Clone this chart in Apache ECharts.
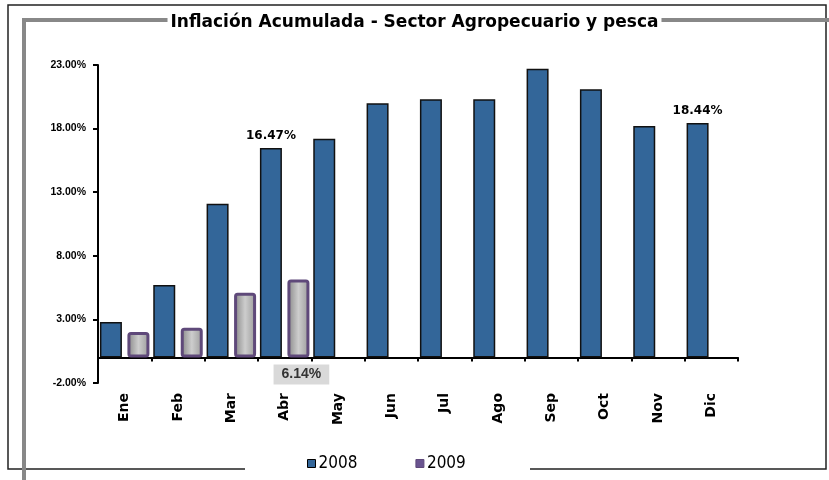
<!DOCTYPE html>
<html>
<head>
<meta charset="utf-8">
<script src="https://cdn.jsdelivr.net/npm/echarts@6/dist/echarts.min.js"></script>
<style>
  html, body { margin: 0; padding: 0; background: #fff; }
  #chart { width: 829px; height: 480px; }
</style>
</head>
<body>
<div id="chart"></div>
<script>
// datos
const months = ['Ene', 'Feb', 'Mar', 'Abr', 'May', 'Jun', 'Jul', 'Ago', 'Sep', 'Oct', 'Nov', 'Dic']
const values2008 = [2.8, 5.7, 12.1, 16.47, 17.2, 20.0, 20.3, 20.3, 22.7, 21.1, 18.2, 18.44]
const values2009 = [2.0, 2.35, 5.1, 6.14, null, null, null, null, null, null, null, null]
const yTicks = [-2, 3, 8, 13, 18, 23]
// puntos con etiqueta
const labeled2008 = ['Abr', 'Dic']
const labeled2009 = ['Abr']

const chart = echarts.init(document.getElementById('chart'))

const pct = v => v.toFixed(2) + '%'

chart.setOption({
  animation: false,
  title: {
    text: 'Inflación Acumulada - Sector Agropecuario y pesca',
    left: 'center',
    top: 13,
    backgroundColor: '#fff',
    padding: [1, 3],
    textStyle: { fontFamily: 'DejaVu Sans', fontWeight: 'bold', fontSize: 17, color: '#000' }
  },
  legend: {
    left: 302,
    top: 450,
    itemWidth: 8,
    itemHeight: 8,
    itemGap: 58,
    icon: 'rect',
    textStyle: { fontFamily: 'Liberation Sans Narrow, DejaVu Sans Condensed', fontSize: 17, color: '#000', padding: [0, 0, 0, -2] },
    data: [
      { name: '2008', itemStyle: { color: '#336699', borderColor: '#000', borderWidth: 1 } },
      { name: '2009', itemStyle: { color: '#6a5490', borderColor: '#5f497a', borderWidth: 1 } }
    ]
  },
  grid: { left: 98, right: 91, top: 65, bottom: 97 },
  xAxis: {
    type: 'category',
    data: months,
    axisLine: { show: true, onZero: true, lineStyle: { color: '#000', width: 2 } },
    axisTick: { show: true, length: 4, lineStyle: { color: '#000', width: 2 } },
    axisLabel: {
      rotate: 90,
      margin: 10,
      fontFamily: 'DejaVu Sans',
      fontWeight: 'bold',
      fontSize: 14,
      color: '#000'
    }
  },
  yAxis: {
    type: 'value',
    min: yTicks[0],
    max: yTicks[yTicks.length - 1],
    interval: 5,
    splitLine: { show: false },
    axisLine: { show: true, lineStyle: { color: '#000', width: 2 } },
    axisTick: { show: true, length: 5, lineStyle: { color: '#000', width: 2 } },
    axisLabel: {
      formatter: v => pct(v),
      margin: 12,
      fontFamily: 'Liberation Sans',
      fontWeight: 'bold',
      fontSize: 10.5,
      color: '#000'
    }
  },
  series: [
    {
      name: '2008',
      type: 'bar',
      barWidth: 22,
      barGap: '25%',
      data: values2008.map((v, i) => ({
        value: v,
        label: {
          show: labeled2008.includes(months[i]),
          position: 'top',
          distance: 6,
          formatter: p => pct(p.value),
          fontFamily: 'DejaVu Sans',
          fontWeight: 'bold',
          fontSize: 12,
          color: '#000'
        }
      })),
      itemStyle: { color: '#336699', borderColor: '#111', borderWidth: 1.5 }
    },
    {
      name: '2009',
      type: 'bar',
      barWidth: 22,
      data: values2009.map((v, i) => ({
        value: v,
        label: {
          show: labeled2009.includes(months[i]),
          position: 'bottom',
          distance: 7,
          offset: [3, 0],
          formatter: p => pct(p.value),
          backgroundColor: '#d9d9d9',
          padding: [3, 8, 3, 8],
          fontFamily: 'Liberation Sans',
          fontWeight: 'bold',
          fontSize: 14,
          color: '#333'
        }
      })),
      itemStyle: {
        color: {
          type: 'linear',
          x: 0, y: 0, x2: 1, y2: 0,
          colorStops: [
            { offset: 0, color: '#858585' },
            { offset: 0.5, color: '#cdcdcd' },
            { offset: 1, color: '#9a9a9a' }
          ]
        },
        borderColor: '#5f497a',
        borderWidth: 3,
        borderRadius: 2
      }
    }
  ],
  graphic: [
    // marco exterior
    { type: 'polyline', z: 0, shape: { points: [[245, 469], [8, 469], [8, 5], [826, 5], [826, 469], [530, 469]] },
      style: { stroke: '#222', lineWidth: 1.5, fill: null } },
    // borde gris del area
    { type: 'polyline', z: 0, shape: { points: [[24, 480], [24, 20], [829, 20]] },
      style: { stroke: '#888', lineWidth: 4, fill: null } }
  ]
})
</script>
</body>
</html>
